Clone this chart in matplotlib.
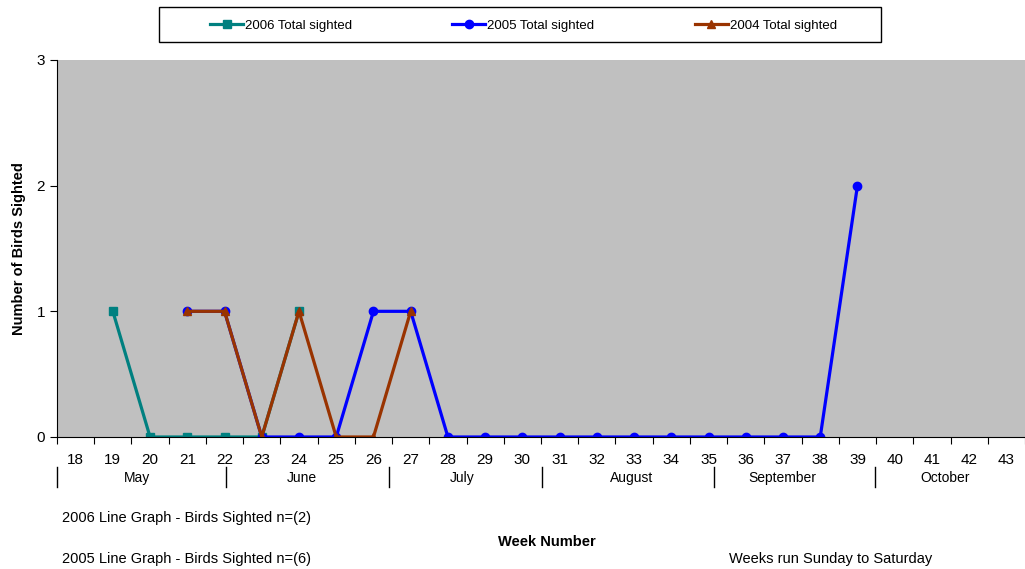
import numpy as np
import matplotlib
matplotlib.use("Agg")
import matplotlib.pyplot as plt
from matplotlib.patches import Rectangle

plt.rcParams['font.family'] = ['Liberation Sans', 'DejaVu Sans']

weeks = list(range(18, 44))
nan = np.nan
# values per week 18..43
y2006 = [nan, 1, 0, 0, 0, 0, 1] + [nan] * 19
y2005 = [nan, nan, nan, 1, 1, 0, 0, 0, 1, 1] + [0] * 11 + [2] + [nan] * 4
y2004 = [nan, nan, nan, 1, 1, 0, 1, 0, 0, 1] + [nan] * 16

months = ['May', 'June', 'July', 'August', 'September', 'October']
month_centers = [19.64, 24.07, 28.38, 32.92, 36.99, 41.36]
month_breaks = [17.5, 22.03, 26.43, 30.53, 35.14, 39.46]

fig = plt.figure(figsize=(10.25, 5.69), dpi=100)
ax = fig.add_axes([0.0556, 0.232, 0.9444, 0.6626])
ax.set_facecolor('#C0C0C0')

x = np.arange(len(weeks))
l1, = ax.plot(x, y2006, color='#008080', marker='s', markersize=6, lw=2.3, label='2006 Total sighted')
l2, = ax.plot(x, y2005, color='#0000FF', marker='o', markersize=6, lw=2.3, label='2005 Total sighted')
l3, = ax.plot(x, y2004, color='#993300', marker='^', markersize=6, lw=2.3, label='2004 Total sighted')

ax.set_xlim(-0.5, len(weeks) - 0.5)
ax.set_ylim(0, 3)
ax.set_yticks([0, 1, 2, 3])
ax.tick_params(axis='y', labelsize=11, length=5, direction='out')
ax.set_xticks(np.arange(len(weeks) + 1) - 0.5)
ax.set_xticklabels([])
ax.tick_params(axis='x', length=5, direction='out')
for s in ['top', 'right']:
    ax.spines[s].set_visible(False)

trans = ax.get_xaxis_transform()
for i, w in enumerate(weeks):
    ax.text(i, -0.06, str(w), transform=trans, ha='center', va='center', fontsize=11)
for b in month_breaks:
    bx = b - 18
    ax.plot([bx, bx], [-0.08, -0.133], transform=trans, color='black', lw=1, clip_on=False)
for m, c in zip(months, month_centers):
    ax.text(c - 18, -0.108, m, transform=trans, ha='center', va='center', fontsize=10)

ax.set_ylabel('Number of Birds Sighted', fontsize=10.5, fontweight='bold', labelpad=8)
fig.text(0.534, 0.047, 'Week Number', ha='center', va='center', fontsize=10.5, fontweight='bold')
fig.text(0.06, 0.089, '2006 Line Graph - Birds Sighted n=(2)', ha='left', va='center', fontsize=10.5)
fig.text(0.06, 0.017, '2005 Line Graph - Birds Sighted n=(6)', ha='left', va='center', fontsize=10.5)
fig.text(0.711, 0.017, 'Weeks run Sunday to Saturday', ha='left', va='center', fontsize=10.5)

# legend box
fig.patches.append(Rectangle((159 / 1025, 1 - 42 / 569), 722 / 1025, 35 / 569,
                             transform=fig.transFigure, facecolor='white',
                             edgecolor='black', lw=1, zorder=0))
fig.legend(handles=[l1, l2, l3], loc='center', bbox_to_anchor=(0.5107, 0.9545), ncol=3,
           fontsize=9.5, frameon=False, handlelength=2.5, handletextpad=0.15,
           columnspacing=7.6, borderpad=0)

fig.savefig('out.png', dpi=100)
